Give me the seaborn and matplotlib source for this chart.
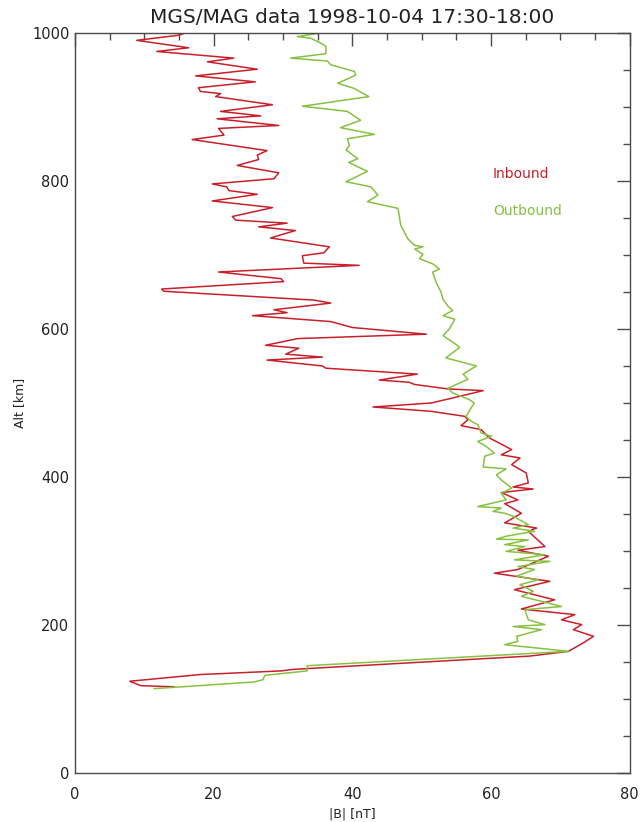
import pandas as pd
import seaborn as sns
import matplotlib.pyplot as plt
from matplotlib.ticker import MultipleLocator

# Inbound leg (altitude km, |B| nT), top to bottom
inbound_alt = [1000, 1000, 997, 990, 980, 975, 966, 961, 951, 942, 934, 926, 921, 918, 914,
               903, 894, 888, 884, 875, 871, 862, 856, 841, 835, 829, 821, 811, 803, 796,
               792, 787, 782, 773, 764, 752, 747, 743, 738, 733, 723, 711, 703, 699, 689,
               686, 677, 668, 664, 654, 651, 639, 635, 626, 622, 618, 610, 602, 593, 587,
               585, 578, 574, 566, 562, 558, 550, 547, 539, 531, 528, 525, 519, 516.7, 506.8,
               500, 494.6, 488.7, 482, 477.5, 469.4, 464, 452.7, 437, 430, 425.7, 416.7, 405.4,
               392, 386.5, 383.8, 379, 369, 364, 351, 338, 331, 326.6, 306, 301, 293, 275,
               270, 266, 259, 247.7, 234, 221.6, 214, 207, 200.5, 193.7, 184.7, 175.7, 164.4,
               158, 140, 138, 133, 124, 118, 116.5]
inbound_b = [11.8, 15.9, 15.0, 8.9, 16.4, 11.8, 22.9, 19.1, 26.3, 17.4, 26.0, 17.8, 18.1, 21.0, 20.3,
             28.5, 21.0, 26.8, 20.5, 29.4, 20.7, 21.5, 16.9, 27.7, 26.3, 26.5, 23.4, 29.4, 28.7, 19.8,
             21.9, 22.2, 26.3, 19.8, 28.5, 22.7, 23.2, 30.6, 26.5, 31.8, 28.2, 36.7, 35.9, 32.8, 33.0,
             41.0, 20.7, 29.7, 30.1, 12.5, 12.8, 34.5, 36.9, 28.7, 30.6, 25.6, 36.9, 40.0, 50.7, 32.1,
             31.1, 27.5, 32.3, 30.4, 35.7, 27.7, 35.7, 36.2, 49.4, 43.9, 48.2, 49.0, 53.8, 58.9, 54.5,
             51.4, 43.0, 51.4, 56.2, 56.7, 55.7, 58.6, 59.8, 63.0, 61.5, 64.2, 63.0, 65.1,
             65.4, 63.2, 66.1, 61.5, 63.9, 62.0, 64.4, 62.0, 66.6, 65.4, 67.8, 63.9, 68.3, 63.9,
             60.5, 63.4, 68.5, 63.4, 69.2, 64.4, 72.1, 70.2, 73.1, 71.9, 74.8, 73.3, 71.2,
             65.6, 31.4, 29.8, 18.0, 7.9, 9.5, 14.3]

# Outbound leg
outbound_alt = [1000, 1000, 995, 993, 986, 982, 972, 966, 962, 957, 948, 943, 932, 925, 914,
                901, 894, 882, 872, 863, 857, 848, 842, 830, 825, 813, 799, 792, 781, 772,
                763, 740, 735, 722, 713, 711, 708, 701, 695, 688, 681, 677, 663, 650, 640,
                631, 625, 618, 613, 600, 591, 579, 575, 561, 550, 539, 532, 527, 520, 513.5,
                504.5, 500, 482, 475, 470.7, 459.5, 455, 448, 441.4, 432.4, 428, 413.5, 411,
                403, 396, 385, 378, 369, 360, 358, 353.6, 351, 347, 335.6, 331, 326.6, 320,
                316, 315, 308.6, 306, 299.5, 295, 288, 286, 279, 275, 266, 261, 254.5, 245.5,
                238.7, 232, 225, 220.7, 207, 200.5, 198, 193.7, 184.7, 178, 173.4, 164.4,
                145, 138, 132, 126, 123, 114]
outbound_b = [34.4, 35.4, 32.1, 34.0, 35.5, 36.2, 36.2, 31.1, 36.4, 36.9, 40.3, 40.5, 37.9, 40.3, 42.4,
              32.8, 39.3, 41.2, 38.3, 43.2, 39.3, 39.6, 39.1, 40.8, 39.5, 42.2, 39.1, 42.7, 43.7, 42.2,
              46.6, 47.0, 47.3, 48.0, 49.0, 50.2, 49.0, 50.2, 49.7, 51.6, 52.6, 51.6, 52.1, 52.8, 53.1,
              53.8, 54.5, 53.1, 54.8, 54.0, 53.1, 55.0, 55.5, 53.5, 57.9, 56.0, 56.7, 55.5, 53.8, 54.5,
              56.9, 57.6, 56.4, 57.2, 58.1, 58.6, 60.1, 58.1, 59.3, 60.5, 59.1, 58.9, 62.2,
              60.8, 61.5, 63.0, 61.5, 62.2, 58.1, 61.5, 60.3, 62.0, 63.2, 65.4, 63.2, 66.3, 62.2,
              60.8, 65.4, 62.0, 64.9, 62.2, 67.8, 63.4, 68.5, 63.9, 66.3, 63.7, 66.8, 64.2, 66.1,
              64.4, 67.3, 70.2, 64.9, 65.4, 67.8, 63.2, 67.3, 63.7, 63.9, 62.0, 71.2,
              33.5, 33.5, 27.4, 27.1, 25.8, 11.4]

RED = "#c8202b"
GREEN = "#86c142"
AXC = "#4a4a4a"

sns.set_style("white")
plt.rcParams["font.family"] = ["DejaVu Sans"]

fig, ax = plt.subplots(figsize=(6.4, 8.22), dpi=100)
fig.subplots_adjust(left=0.1172, right=0.9836, bottom=0.0596, top=0.9599)

df_in = pd.DataFrame({"B": inbound_b, "alt": inbound_alt})
df_out = pd.DataFrame({"B": outbound_b, "alt": outbound_alt})

sns.lineplot(data=df_in, x="B", y="alt", sort=False, estimator=None,
             color=RED, lw=1.1, ax=ax)
sns.lineplot(data=df_out, x="B", y="alt", sort=False, estimator=None,
             color=GREEN, lw=1.1, ax=ax)

ax.set_xlim(0, 80)
ax.set_ylim(0, 1000)
ax.xaxis.set_major_locator(MultipleLocator(20))
ax.xaxis.set_minor_locator(MultipleLocator(5))
ax.yaxis.set_major_locator(MultipleLocator(200))
ax.yaxis.set_minor_locator(MultipleLocator(50))
ax.tick_params(which="both", direction="in", top=True, right=True, color=AXC)
ax.tick_params(which="major", length=9.5, width=1.0, labelsize=10.5, labelcolor="#222222")
ax.tick_params(which="minor", length=5, width=1.0)
ax.tick_params(axis="x", which="major", pad=10)
ax.tick_params(axis="y", which="major", pad=4)
for sp in ax.spines.values():
    sp.set_color(AXC)
    sp.set_linewidth(1.0)

ax.set_xlabel("|B| [nT]", fontsize=9, color="#222222", labelpad=4)
ax.set_ylabel("Alt [km]", fontsize=9, color="#222222", labelpad=4)
ax.set_title("MGS/MAG data 1998-10-04 17:30-18:00", fontsize=14.5, color="#222222", pad=7)

ax.text(60.3, 809, "Inbound", color=RED, fontsize=10, va="center", ha="left")
ax.text(60.3, 759, "Outbound", color=GREEN, fontsize=10, va="center", ha="left")

fig.savefig("out.png", dpi=100)
